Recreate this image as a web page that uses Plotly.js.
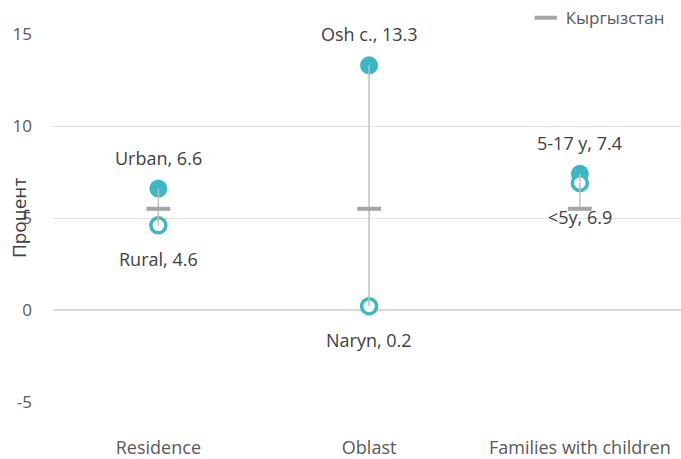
<!DOCTYPE html>
<html>
<head>
<meta charset="utf-8">
<script src="https://cdn.plot.ly/plotly-3.0.1.min.js"></script>
<style>html,body{margin:0;padding:0;background:#fff;}#chart{width:681px;height:459px;}</style>
</head>
<body>
<div id="chart"></div>
<script>
const categories = ["Residence", "Oblast", "Families with children"];
const highLabels = ["Urban", "Osh c.", "5-17 y"];
const highValues = [6.6, 13.3, 7.4];
const lowLabels = ["Rural", "Naryn", "<5y"];
const lowValues = [4.6, 0.2, 6.9];
const nationalName = "Кыргызстан";
const nationalValues = [5.5, 5.5, 5.5];
const yTicks = [-5, 0, 5, 10, 15];

const teal = "#3BB8C4";
const font = "'Open Sans', 'Liberation Sans', sans-serif";

const traces = [];
traces.push({
  x: categories, y: highValues, type: "scatter", mode: "markers",
  marker: {color: teal, size: 18, line: {width: 0}},
  showlegend: false, hoverinfo: "skip"
});
traces.push({
  x: categories, y: lowValues, type: "scatter", mode: "markers",
  marker: {color: "#ffffff", size: 15, line: {color: teal, width: 3.5}},
  showlegend: false, hoverinfo: "skip"
});
categories.forEach((c, i) => {
  const vals = [highValues[i], lowValues[i], nationalValues[i]];
  traces.push({
    x: [c, c], y: [Math.min(...vals), Math.max(...vals)], type: "scatter", mode: "lines",
    line: {color: "#BFBFBF", width: 1.5}, showlegend: false, hoverinfo: "skip"
  });
});
traces.push({
  x: categories, y: nationalValues, type: "scatter", mode: "markers",
  name: nationalName,
  marker: {symbol: "line-ew-open", size: 17, color: "#A5A5A5", line: {color: "#A5A5A5", width: 4}},
  showlegend: true, hoverinfo: "skip"
});

const annotations = [];
categories.forEach((c, i) => {
  annotations.push({x: c, y: highValues[i], xref: "x", yref: "y", showarrow: false,
    text: highLabels[i] + ", " + highValues[i], yshift: 31,
    font: {family: font, size: 18, color: "#404040"}});
  annotations.push({x: c, y: lowValues[i], xref: "x", yref: "y", showarrow: false,
    text: lowLabels[i].replace("<", "&lt;") + ", " + lowValues[i], yshift: -34,
    font: {family: font, size: 18, color: "#404040"}});
});
annotations.push({x: -0.054, y: 0.5, xref: "paper", yref: "paper", xanchor: "center", yanchor: "middle",
  showarrow: false, textangle: -90, text: "Процент",
  font: {family: font, size: 19, color: "#404040"}});

const layout = {
  width: 681, height: 459,
  margin: {l: 53, r: 0, t: 34, b: 57},
  paper_bgcolor: "#ffffff", plot_bgcolor: "#ffffff",
  font: {family: font, color: "#595959", size: 18},
  xaxis: {
    type: "category", range: [-0.5, 2.48], showgrid: false, zeroline: false, showline: false,
    ticks: "", ticklabelstandoff: 33, tickfont: {family: font, size: 18, color: "#595959"}, fixedrange: true
  },
  yaxis: {
    range: [-5, 15], tickvals: yTicks, ticktext: yTicks.map(String),
    showgrid: true, gridcolor: "#E3E3E3", gridwidth: 1,
    zeroline: true, zerolinecolor: "#D9D9D9", zerolinewidth: 2,
    showline: false, ticks: "", ticklabelstandoff: 20,
    tickfont: {family: font, size: 17, color: "#595959"}, fixedrange: true
  },
  legend: {x: 0.982, xanchor: "right", y: 1.043, yanchor: "middle", orientation: "h",
    bgcolor: "rgba(0,0,0,0)", font: {family: font, size: 17, color: "#595959"},
    itemwidth: 30},
  annotations: annotations,
  showlegend: true
};

Plotly.newPlot("chart", traces, layout, {displayModeBar: false, staticPlot: true});
</script>
</body>
</html>
